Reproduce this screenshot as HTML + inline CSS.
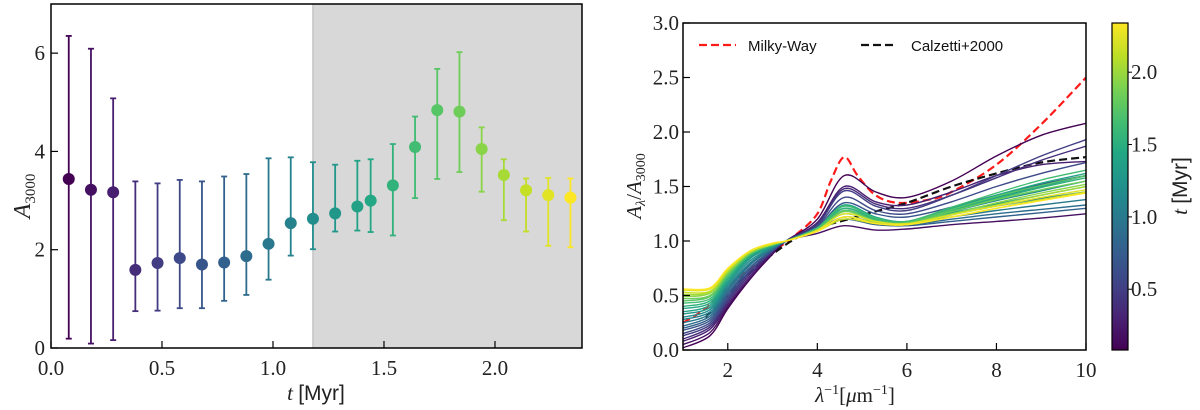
<!DOCTYPE html>
<html><head><meta charset="utf-8">
<style>
html,body{margin:0;padding:0;background:#fff;}
svg{display:block;}
.tk{font-family:"Liberation Serif",serif;font-size:21px;fill:#222;}
.lg{font-family:"Liberation Sans",sans-serif;font-size:15px;fill:#111;}
</style></head>
<body>
<svg id="fig" width="1200" height="410" xmlns="http://www.w3.org/2000/svg"></svg>
<script>
// ---------- Left chart data ----------
const tVals = [0.08,0.18,0.28,0.38,0.48,0.58,0.68,0.78,0.88,0.98,1.08,1.18,1.28,1.38,1.44,1.54,1.64,1.74,1.84,1.94,2.04,2.14,2.24,2.34];
const aVals = [3.44,3.22,3.17,1.59,1.73,1.83,1.70,1.74,1.87,2.12,2.54,2.63,2.74,2.88,3.00,3.31,4.09,4.84,4.81,4.05,3.52,3.21,3.11,3.06];
const aHigh = [6.35,6.09,5.08,3.39,3.35,3.42,3.39,3.49,3.54,3.86,3.88,3.78,3.73,3.81,3.84,4.15,4.71,5.68,6.02,4.49,3.84,3.45,3.46,3.45];
const aLow  = [0.19,0.09,0.16,0.75,0.76,0.81,0.81,0.96,1.08,1.39,1.88,2.01,2.37,2.39,2.36,2.29,3.05,3.44,3.58,3.18,2.60,2.37,2.08,2.05];
const leftXTicks = [0.0,0.5,1.0,1.5,2.0];
const leftYTicks = [0,2,4,6];
const shadeStart = 1.18;

// ---------- Right chart data ----------
const waveX = [1,1.6,2,2.5,3,3.3,4,4.6,5.3,6,7,8,9,10];
const curves = [
 [0.02,0.13,0.38,0.65,0.88,1,1.20,1.60,1.45,1.40,1.55,1.78,1.97,2.08],
 [0.05,0.16,0.40,0.66,0.89,1,1.07,1.14,1.10,1.11,1.15,1.18,1.21,1.25],
 [0.08,0.19,0.42,0.68,0.90,1,1.17,1.50,1.36,1.33,1.45,1.60,1.70,1.73],
 [0.10,0.21,0.44,0.70,0.90,1,1.16,1.48,1.34,1.30,1.42,1.58,1.74,1.87],
 [0.13,0.23,0.46,0.72,0.91,1,1.15,1.46,1.32,1.28,1.42,1.60,1.78,1.93],
 [0.15,0.25,0.48,0.73,0.91,1,1.14,1.40,1.28,1.25,1.36,1.50,1.62,1.72],
 [0.18,0.27,0.50,0.75,0.92,1,1.13,1.35,1.25,1.22,1.31,1.42,1.52,1.60],
 [0.20,0.29,0.52,0.76,0.92,1,1.10,1.20,1.15,1.14,1.18,1.22,1.26,1.30],
 [0.22,0.31,0.54,0.78,0.93,1,1.10,1.22,1.17,1.15,1.20,1.25,1.29,1.33],
 [0.25,0.33,0.56,0.79,0.93,1,1.11,1.25,1.18,1.16,1.22,1.28,1.33,1.38],
 [0.28,0.35,0.58,0.80,0.94,1,1.11,1.28,1.19,1.16,1.24,1.32,1.39,1.45],
 [0.30,0.37,0.60,0.82,0.94,1,1.12,1.30,1.20,1.17,1.27,1.37,1.46,1.55],
 [0.33,0.39,0.62,0.84,0.95,1,1.12,1.32,1.21,1.18,1.29,1.40,1.50,1.60],
 [0.35,0.41,0.63,0.85,0.95,1,1.12,1.30,1.20,1.17,1.26,1.34,1.42,1.50],
 [0.38,0.43,0.65,0.86,0.96,1,1.12,1.33,1.22,1.18,1.30,1.42,1.53,1.62],
 [0.40,0.45,0.66,0.87,0.96,1,1.11,1.30,1.20,1.17,1.28,1.39,1.49,1.58],
 [0.43,0.47,0.68,0.88,0.96,1,1.12,1.32,1.21,1.18,1.31,1.44,1.56,1.65],
 [0.45,0.49,0.69,0.88,0.97,1,1.11,1.28,1.19,1.17,1.29,1.41,1.51,1.60],
 [0.47,0.50,0.70,0.89,0.97,1,1.10,1.27,1.18,1.16,1.27,1.38,1.47,1.55],
 [0.49,0.52,0.71,0.89,0.97,1,1.10,1.25,1.18,1.16,1.25,1.35,1.44,1.52],
 [0.51,0.53,0.72,0.90,0.97,1,1.09,1.22,1.17,1.15,1.24,1.33,1.42,1.50],
 [0.53,0.54,0.73,0.90,0.97,1,1.09,1.20,1.16,1.15,1.22,1.30,1.38,1.45],
 [0.55,0.56,0.74,0.91,0.98,1,1.10,1.25,1.18,1.16,1.24,1.32,1.40,1.47],
 [0.56,0.57,0.75,0.91,0.98,1,1.09,1.22,1.16,1.15,1.22,1.30,1.37,1.44]
];
const mwX = [1,1.5,2,2.5,3,3.5,4,4.3,4.6,4.9,5.3,5.8,6.5,7,8,9,10];
const mwY = [0.25,0.38,0.58,0.75,0.90,1.05,1.25,1.55,1.77,1.60,1.42,1.35,1.38,1.45,1.70,2.07,2.50];
const czX = [1.5,2,2.5,3,3.5,4,4.7,5.1,6,7,8,9,10];
const czY = [0.30,0.50,0.72,0.88,1.02,1.12,1.20,1.25,1.35,1.50,1.62,1.72,1.77];
const rightXTicks = [2,4,6,8,10];
const rightYTicks = [0.0,0.5,1.0,1.5,2.0,2.5,3.0];
const cbTicks = [0.5,1.0,1.5,2.0];

// ---------- helpers ----------
const NS = "http://www.w3.org/2000/svg";
const svg = document.getElementById('fig');
function mk(tag, attrs, parent){const e=document.createElementNS(NS,tag);for(const k in attrs)e.setAttribute(k,attrs[k]);(parent||svg).appendChild(e);return e;}
const VIR=[[68,1,84],[72,35,116],[64,67,135],[52,94,141],[41,120,142],[32,144,140],[34,167,132],[68,190,112],[121,209,81],[189,222,38],[253,231,37]];
function viridis(f){f=Math.max(0,Math.min(1,f));const p=f*(VIR.length-1);const i=Math.min(VIR.length-2,Math.floor(p));const r=p-i;const a=VIR[i],b=VIR[i+1];return `rgb(${Math.round(a[0]+(b[0]-a[0])*r)},${Math.round(a[1]+(b[1]-a[1])*r)},${Math.round(a[2]+(b[2]-a[2])*r)})`;}
const tMin=0.08,tMax=2.34;
const cmap=t=>viridis((t-tMin)/(tMax-tMin));
function smoothPath(pts){let d=`M${pts[0][0]},${pts[0][1]}`;for(let i=0;i<pts.length-1;i++){const p0=pts[Math.max(0,i-1)],p1=pts[i],p2=pts[i+1],p3=pts[Math.min(pts.length-1,i+2)];const c1=[p1[0]+(p2[0]-p0[0])/6,p1[1]+(p2[1]-p0[1])/6];const c2=[p2[0]-(p3[0]-p1[0])/6,p2[1]-(p3[1]-p1[1])/6];d+=` C${c1[0].toFixed(1)},${c1[1].toFixed(1)} ${c2[0].toFixed(1)},${c2[1].toFixed(1)} ${p2[0].toFixed(1)},${p2[1].toFixed(1)}`;}return d;}

// ---------- Left chart ----------
const L={x0:51,x1:582,y0:348,y1:4,xmin:0,xmax:2.392,ymin:0,ymax:7};
const lx=v=>L.x0+(v-L.xmin)/(L.xmax-L.xmin)*(L.x1-L.x0);
const ly=v=>L.y0-(v-L.ymin)/(L.ymax-L.ymin)*(L.y0-L.y1);
const lg=mk('g',{});


const shade=mk('rect',{x:lx(shadeStart),y:L.y1,width:L.x1-lx(shadeStart),height:L.y0-L.y1,fill:'#d8d8d8'},lg);


mk('line',{x1:lx(shadeStart),x2:lx(shadeStart),y1:L.y1,y2:L.y0,stroke:'#c4c4c4','stroke-width':1.5},lg);
tVals.forEach((t,i)=>{
  const c=cmap(t);
  const g=mk('g',{},lg);
  
  
  mk('line',{x1:lx(t),x2:lx(t),y1:ly(aHigh[i]),y2:ly(aLow[i]),stroke:c,'stroke-width':1.8},g);
  mk('line',{x1:lx(t)-3,x2:lx(t)+3,y1:ly(aHigh[i]),y2:ly(aHigh[i]),stroke:c,'stroke-width':1.8},g);
  mk('line',{x1:lx(t)-3,x2:lx(t)+3,y1:ly(aLow[i]),y2:ly(aLow[i]),stroke:c,'stroke-width':1.8},g);
  mk('ellipse',{cx:lx(t),cy:ly(aVals[i]),rx:6,ry:6,fill:c},g);
});
const lframe=mk('rect',{x:L.x0,y:L.y1,width:L.x1-L.x0,height:L.y0-L.y1,fill:'none',stroke:'#000','stroke-width':1.5},lg);


leftXTicks.forEach(v=>{
  mk('line',{x1:lx(v),x2:lx(v),y1:L.y0,y2:L.y0-7,stroke:'#000','stroke-width':1.2},lg);
  const t=mk('text',{x:lx(v),y:L.y0+27,'text-anchor':'middle',class:'tk'},lg);t.textContent=v.toFixed(1);
  
  
});
leftYTicks.forEach(v=>{
  mk('line',{x1:L.x0,x2:L.x0+7,y1:ly(v),y2:ly(v),stroke:'#000','stroke-width':1.2},lg);
  const t=mk('text',{x:L.x0-6,y:ly(v)+7,'text-anchor':'end',class:'tk'},lg);t.textContent=String(v);
  
  
});
const lxt=mk('text',{x:316,y:400,'text-anchor':'middle',class:'tk'},lg);
lxt.innerHTML='<tspan font-style="italic">t</tspan> <tspan font-family="Liberation Sans, sans-serif">[Myr]</tspan>';


const lyt=mk('text',{transform:'translate(30,196) rotate(-90)','text-anchor':'middle',class:'tk'},lg);
lyt.innerHTML='<tspan font-style="italic" font-size="24">A</tspan><tspan font-size="15" dy="5">3000</tspan>';



// ---------- Right chart ----------
const R={x0:683,x1:1086,y0:350,y1:23,xmin:1,xmax:10,ymin:0,ymax:3};
const rx=v=>R.x0+(v-R.xmin)/(R.xmax-R.xmin)*(R.x1-R.x0);
const ry=v=>R.y0-(v-R.ymin)/(R.ymax-R.ymin)*(R.y0-R.y1);
const rg=mk('g',{});


mk('clipPath',{id:'rclip'},rg);
mk('rect',{x:R.x0,y:R.y1,width:R.x1-R.x0,height:R.y0-R.y1},document.getElementById('rclip'));
const plotG=mk('g',{'clip-path':'url(#rclip)'},rg);
const mw=mk('path',{d:smoothPath(mwX.map((x,i)=>[rx(x),ry(mwY[i])])),fill:'none',stroke:'#ff1a1a','stroke-width':2.2,'stroke-dasharray':'8,4'},plotG);


const cz=mk('path',{d:smoothPath(czX.map((x,i)=>[rx(x),ry(czY[i])])),fill:'none',stroke:'#111','stroke-width':2.2,'stroke-dasharray':'8,4'},plotG);


curves.forEach((c,i)=>{
  const p=mk('path',{d:smoothPath(waveX.map((x,j)=>[rx(x),ry(c[j])])),fill:'none',stroke:cmap(tVals[i]),'stroke-width':1.4},plotG);
  
  
});
const rframe=mk('rect',{x:R.x0,y:R.y1,width:R.x1-R.x0,height:R.y0-R.y1,fill:'none',stroke:'#000','stroke-width':1.5},rg);


rightXTicks.forEach(v=>{
  mk('line',{x1:rx(v),x2:rx(v),y1:R.y0,y2:R.y0-7,stroke:'#000','stroke-width':1.2},rg);
  const t=mk('text',{x:rx(v),y:R.y0+27,'text-anchor':'middle',class:'tk'},rg);t.textContent=String(v);
  
  
});
rightYTicks.forEach(v=>{
  mk('line',{x1:R.x0,x2:R.x0+7,y1:ry(v),y2:ry(v),stroke:'#000','stroke-width':1.2},rg);
  const t=mk('text',{x:R.x0-4,y:ry(v)+7,'text-anchor':'end',class:'tk'},rg);t.textContent=v.toFixed(1);
  
  
});
const rxt=mk('text',{x:855,y:402,'text-anchor':'middle',class:'tk'},rg);
rxt.innerHTML='<tspan font-style="italic">λ</tspan><tspan font-size="14" dy="-8">−1</tspan><tspan dy="8">[</tspan><tspan font-style="italic">μ</tspan><tspan>m</tspan><tspan font-size="14" dy="-8">−1</tspan><tspan dy="8">]</tspan>';


const ryt=mk('text',{transform:'translate(641,186) rotate(-90)','text-anchor':'middle',class:'tk'},rg);
ryt.innerHTML='<tspan font-style="italic">A</tspan><tspan font-size="14" dy="4" font-style="italic">λ</tspan><tspan dy="-4">/</tspan><tspan font-style="italic">A</tspan><tspan font-size="14" dy="4">3000</tspan>';


// legend
const leg=mk('g',{},rg);


mk('line',{x1:699,x2:736,y1:45,y2:45,stroke:'#ff1a1a','stroke-width':2.2,'stroke-dasharray':'8,4'},leg);
const l1=mk('text',{x:748,y:51,class:'lg'},leg);l1.textContent='Milky-Way';


mk('line',{x1:861,x2:897,y1:45,y2:45,stroke:'#111','stroke-width':2.2,'stroke-dasharray':'8,4'},leg);
const l2=mk('text',{x:911,y:51,class:'lg'},leg);l2.textContent='Calzetti+2000';



// ---------- Colorbar ----------
const CB={x0:1112,x1:1128,y0:350,y1:23};
const cby=v=>CB.y0-(v-tMin)/(tMax-tMin)*(CB.y0-CB.y1);
const defs=mk('defs',{});
const grad=mk('linearGradient',{id:'vgrad',x1:0,y1:1,x2:0,y2:0},defs);
VIR.forEach((c,i)=>mk('stop',{offset:(i/(VIR.length-1)),'stop-color':`rgb(${c[0]},${c[1]},${c[2]})`},grad));
const cb=mk('rect',{x:CB.x0,y:CB.y1,width:CB.x1-CB.x0,height:CB.y0-CB.y1,fill:'url(#vgrad)',stroke:'#000','stroke-width':1.2});


cbTicks.forEach(v=>{
  mk('line',{x1:CB.x1,x2:CB.x1+4,y1:cby(v),y2:cby(v),stroke:'#000','stroke-width':1});
  const t=mk('text',{x:CB.x1+3,y:cby(v)+7,class:'tk'});t.textContent=v.toFixed(1);
  
  
});
const cbt=mk('text',{transform:'translate(1187,186) rotate(-90)','text-anchor':'middle',class:'tk'});
cbt.innerHTML='<tspan font-style="italic">t</tspan> <tspan font-family="Liberation Sans, sans-serif">[Myr]</tspan>';


</script>
</body></html>
